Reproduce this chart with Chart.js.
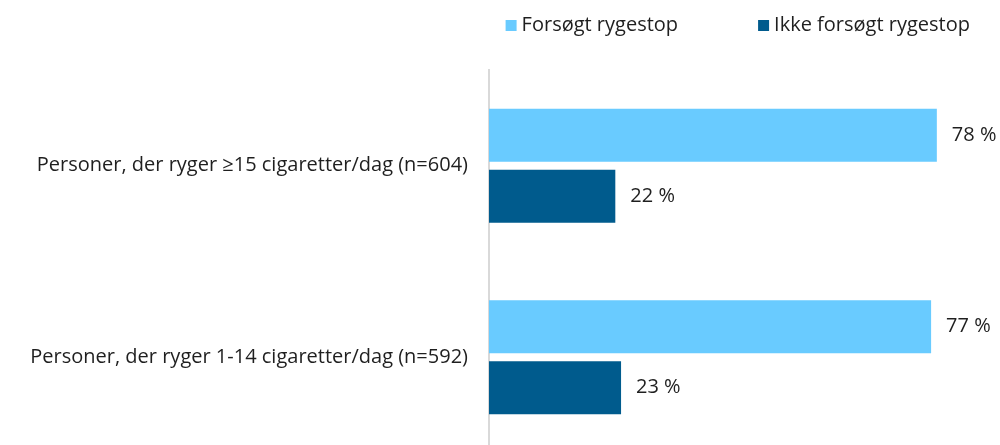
<!DOCTYPE html>
<html>
<head>
<meta charset="utf-8">
<script src="https://cdn.jsdelivr.net/npm/chart.js@4"></script>
<style>
  html, body { margin: 0; padding: 0; background: #fff; overflow: hidden; }
  #wrap { width: 1000px; height: 453px; }
</style>
</head>
<body>
<div id="wrap"><canvas id="barChart"></canvas></div>
<script>
var categories = [
    "Personer, der ryger \u226515 cigaretter/dag (n=604)",
    "Personer, der ryger 1-14 cigaretter/dag (n=592)"
];
var seriesNames = ["Fors\u00f8gt rygestop", "Ikke fors\u00f8gt rygestop"];
var attempted = [78, 77];
var notAttempted = [22, 23];
var colors = ["#69CBFF", "#005B8D"];

var font = "Open Sans";
var textColor = "#1f1f1f";

// legend in the top right corner, last item ends at x=970
var topLegend = {
    id: "topLegend",
    afterDraw: function (chart) {
        var ctx = chart.ctx;
        var x = 970;
        ctx.save();
        ctx.font = "20px " + font;
        ctx.textBaseline = "middle";
        ctx.textAlign = "left";
        for (var i = chart.data.datasets.length - 1; i >= 0; i--) {
            var ds = chart.data.datasets[i];
            var w = ctx.measureText(ds.label).width;
            ctx.fillStyle = textColor;
            ctx.fillText(ds.label, x - w, 25);
            ctx.fillStyle = ds.backgroundColor;
            ctx.fillRect(x - w - 16, 20, 11, 11);
            x = x - w - 16 - 80;
        }
        ctx.restore();
    }
};

// "78 %" style labels to the right of each bar
var valueLabels = {
    id: "valueLabels",
    afterDatasetsDraw: function (chart) {
        var ctx = chart.ctx;
        ctx.save();
        ctx.font = "20px " + font;
        ctx.fillStyle = textColor;
        ctx.textBaseline = "middle";
        ctx.textAlign = "left";
        chart.data.datasets.forEach(function (ds, i) {
            chart.getDatasetMeta(i).data.forEach(function (bar, j) {
                ctx.fillText(ds.data[j] + " %", bar.x + 15, bar.y);
            });
        });
        ctx.restore();
    }
};

new Chart(document.getElementById("barChart"), {
    type: "bar",
    data: {
        labels: categories,
        datasets: [
            { label: seriesNames[0], data: attempted, backgroundColor: colors[0] },
            { label: seriesNames[1], data: notAttempted, backgroundColor: colors[1] }
        ]
    },
    options: {
        indexAxis: "y",
        responsive: true,
        maintainAspectRatio: false,
        animation: false,
        categoryPercentage: 0.637,
        barPercentage: 0.869,
        layout: { padding: { top: 70 } },
        scales: {
            x: { display: false, min: 0, max: 89 },
            y: {
                afterFit: function (scale) {
                    scale.width = 489;
                    scale.paddingTop = 0;
                    scale.paddingBottom = 0;
                },
                grid: { display: false, drawTicks: false },
                border: { display: true, color: "#d9d9d9", width: 2 },
                ticks: {
                    padding: 21,
                    color: textColor,
                    font: { family: font, size: 20 }
                }
            }
        },
        plugins: {
            tooltip: { enabled: false },
            legend: { display: false }
        }
    },
    plugins: [topLegend, valueLabels]
});
</script>
</body>
</html>
